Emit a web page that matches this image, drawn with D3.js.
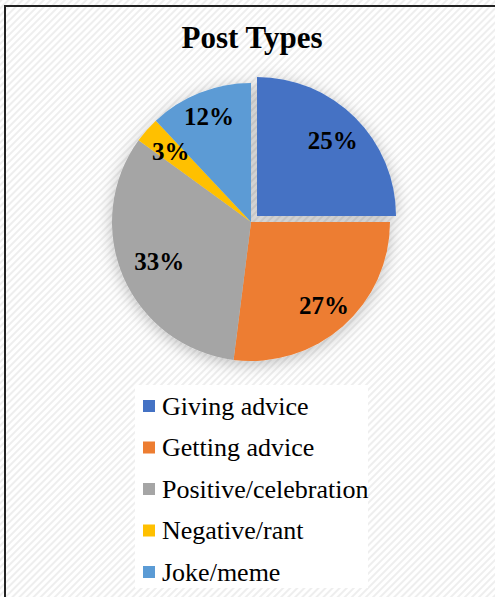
<!DOCTYPE html>
<html><head><meta charset="utf-8">
<script src="https://cdn.jsdelivr.net/npm/d3@7/dist/d3.min.js"></script>
<style>html,body{margin:0;padding:0;background:#fff;}svg{display:block;}</style>
</head><body>
<script>
const title = "Post Types";
const categories = ["Giving advice", "Getting advice", "Positive/celebration", "Negative/rant", "Joke/meme"];
const values = [25, 27, 33, 3, 12];
const colors = ["#4472C4", "#ED7D31", "#A5A5A5", "#FFC000", "#5B9BD5"];
const exploded = [true, false, false, false, false];

const W = 495, H = 597;
const svg = d3.select("body").append("svg").attr("width", W).attr("height", H);
const defs = svg.append("defs");
const pat = defs.append("pattern").attr("id", "hatch").attr("patternUnits", "userSpaceOnUse")
  .attr("width", 5).attr("height", 5).attr("patternTransform", "rotate(-45)");
pat.append("rect").attr("width", 5).attr("height", 5).attr("fill", "#ffffff");
pat.append("rect").attr("width", 5).attr("height", 2).attr("fill", "#eeeeee");

const sh = defs.append("filter").attr("id", "shadow").attr("x", "-30%").attr("y", "-30%").attr("width", "160%").attr("height", "160%");
sh.append("feDropShadow").attr("dx", 0).attr("dy", 3).attr("stdDeviation", 8)
  .attr("flood-color", "#000").attr("flood-opacity", 0.25);

svg.append("rect").attr("x", 0).attr("y", 0).attr("width", W).attr("height", H).attr("fill", "url(#hatch)");
// border
svg.append("path").attr("d", `M5,${H} L5,6 L${W},6`).attr("fill", "none").attr("stroke", "#222").attr("stroke-width", 2);

svg.append("text").attr("x", 252).attr("y", 48).attr("text-anchor", "middle")
  .attr("font-family", "'Liberation Serif','Times New Roman',serif").attr("font-weight", "bold")
  .attr("font-size", 31).attr("fill", "#000").text(title);

const cx = 251, cy = 222, R = 139, explode = 8.5;
const pie = d3.pie().sort(null).value(d => d)(values);
const arc = d3.arc().innerRadius(0).outerRadius(R);
const g = svg.append("g").attr("transform", `translate(${cx},${cy})`).attr("filter", "url(#shadow)");
g.selectAll("path").data(pie).join("path")
  .attr("d", arc)
  .attr("fill", (d, i) => colors[i])
  .attr("transform", (d, i) => {
    if (!exploded[i]) return null;
    const a = (d.startAngle + d.endAngle) / 2;
    return `translate(${Math.sin(a) * explode},${-Math.cos(a) * explode})`;
  });

// labels
const labelR = [0.77, 0.795, 0.72, 0.77, 0.82];
const lg = svg.append("g").attr("transform", `translate(${cx},${cy})`);
lg.selectAll("text").data(pie).join("text")
  .attr("x", (d, i) => { const a = (d.startAngle + d.endAngle) / 2; return Math.sin(a) * R * labelR[i] + (exploded[i] ? Math.sin(a) * explode : 0); })
  .attr("y", (d, i) => { const a = (d.startAngle + d.endAngle) / 2; return -Math.cos(a) * R * labelR[i] - (exploded[i] ? Math.cos(a) * explode : 0); })
  .attr("dy", "0.35em")
  .attr("text-anchor", "middle")
  .attr("font-family", "'Liberation Serif','Times New Roman',serif").attr("font-weight", "bold")
  .attr("font-size", 25).attr("fill", "#000")
  .text(d => Math.round(d.data) + "%");

// legend
const legX = 135, legY = 385, legW = 233, legH = 203;
svg.append("rect").attr("x", legX).attr("y", legY).attr("width", legW).attr("height", legH).attr("fill", "#fff");
const step = 41.5;
const items = svg.append("g").selectAll("g").data(categories).join("g")
  .attr("transform", (d, i) => `translate(143,${406 + i * step})`);
items.append("rect").attr("x", 0).attr("y", -6).attr("width", 12).attr("height", 12).attr("fill", (d, i) => colors[i]);
items.append("text").attr("x", 19).attr("y", 0).attr("dy", "0.33em")
  .attr("font-family", "'Liberation Serif','Times New Roman',serif").attr("font-size", 26).attr("fill", "#000")
  .text(d => d);
</script>
</body></html>
